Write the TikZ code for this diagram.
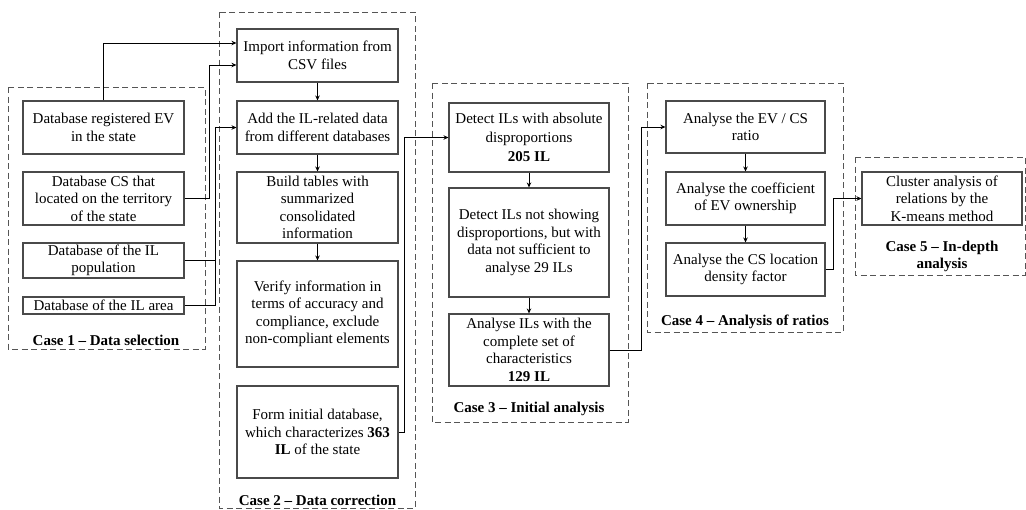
\documentclass[tikz,border=0pt]{standalone}
\usepackage{fontspec}
\setmainfont{Liberation Serif}
\usetikzlibrary{arrows.meta}
\definecolor{boxgray}{HTML}{4A4A4A}
\definecolor{framegray}{HTML}{555555}
\tikzset{
  bx/.style={draw=boxgray, line width=1.1pt, align=center, inner sep=0pt,
    font=\fontsize{15}{17.5}\selectfont},
  frame/.style={draw=framegray, line width=1pt, dash pattern=on 6pt off 3.5pt},
  lbl/.style={font=\fontsize{15}{17}\selectfont\bfseries, align=center, inner sep=0pt},
  arr/.style={draw=black, line width=0.9pt, -{Stealth[length=5pt,width=4.5pt]}},
  ln/.style={draw=black, line width=0.9pt},
}
\begin{document}
\begin{tikzpicture}[x=1pt,y=-1pt]
\useasboundingbox (0,0) rectangle (1026,509);
% frames
\draw[frame] (8,87) rectangle (205,349);
\draw[frame] (219,12) rectangle (415,508);
\draw[frame] (432,83) rectangle (628,422);
\draw[frame] (647,83) rectangle (843,332);
\draw[frame] (855,157) rectangle (1025,275);
% case 1
\node[bx, minimum width=161pt, minimum height=53pt] (ev) at (103.5,127.5) {Database registered EV\\in the state};
\node[bx, minimum width=161pt, minimum height=53pt] (cs) at (103.5,198.5) {Database CS that\\located on the territory\\of the state};
\node[bx, minimum width=161pt, minimum height=35pt] (pop) at (103.5,260.5) {Database of the IL\\population};
\node[bx, minimum width=161pt, minimum height=17pt] (area) at (103.5,305.5) {Database of the IL area};
\node[lbl] (l1) at (106,340) {Case 1 – Data selection};
% case 2
\node[bx, minimum width=161pt, minimum height=53pt] (imp) at (317.5,55.5) {Import information from\\CSV files};
\node[bx, minimum width=161pt, minimum height=53pt] (add) at (317.5,127.5) {Add the IL-related data\\from different databases};
\node[bx, minimum width=161pt, minimum height=71pt] (build) at (317.5,207.5) {Build tables with\\summarized\\consolidated\\information};
\node[bx, minimum width=161pt, minimum height=106pt] (ver) at (317.5,314) {Verify information in\\terms of accuracy and\\compliance, exclude\\non-compliant elements};
\node[bx, minimum width=161pt, minimum height=92pt] (form) at (317.5,432) {Form initial database,\\which characterizes \textbf{363}\\\textbf{IL} of the state};
\node[lbl] (l2) at (317.5,500.5) {Case 2 – Data correction};
% case 3
\node[bx, minimum width=160pt, minimum height=69pt, font=\fontsize{15}{19}\selectfont] (d1) at (529,137.5) {Detect ILs with absolute\\disproportions\\\textbf{205 IL}};
\node[bx, minimum width=160pt, minimum height=109pt] (d2) at (529,242.5) {Detect ILs not showing\\disproportions, but with\\data not sufficient to\\analyse 29 ILs};
\node[bx, minimum width=160pt, minimum height=72pt] (d3) at (529,350) {Analyse ILs with the\\complete set of\\characteristics\\\textbf{129 IL}};
\node[lbl] (l3) at (529,409) {Case 3 – Initial analysis};
% case 4
\node[bx, minimum width=159pt, minimum height=52pt] (r1) at (745.5,127) {Analyse the EV / CS\\ratio};
\node[bx, minimum width=159pt, minimum height=53pt] (r2) at (745.5,198.5) {Analyse the coefficient\\of EV ownership};
\node[bx, minimum width=159pt, minimum height=53pt] (r3) at (745.5,269.5) {Analyse the CS location\\density factor};
\node[lbl] (l4) at (745,322) {Case 4 – Analysis of ratios};
% case 5
\node[bx, minimum width=160pt, minimum height=53pt] (cl) at (942,198.5) {Cluster analysis of\\relations by the\\K-means method};
\node[lbl] (l5) at (942,256.5) {Case 5 – In-depth\\analysis};
% connectors
\draw[arr] (ev.north) |- ([yshift=12.5pt]imp.west);
\draw[arr] (cs.east) -- ++(25,0) |- ([yshift=-9.5pt]imp.west);
\draw[ln] (pop.east) -- ++(31,0);
\draw[arr] (area.east) -- ++(31,0) |- (add.west);
\draw[arr] (imp.south) -- (add.north);
\draw[arr] (add.south) -- (build.north);
\draw[arr] (build.south) -- (ver.north);
\draw[arr] (form.east) -- ++(6,0) |- (d1.west);
\draw[arr] (d1.south) -- (d2.north);
\draw[arr] (d2.south) -- (d3.north);
\draw[arr] (d3.east) -- ++(32,0) |- (r1.west);
\draw[arr] (r1.south) -- (r2.north);
\draw[arr] (r2.south) -- (r3.north);
\draw[arr] (r3.east) -- ++(8,0) |- (cl.west);
\end{tikzpicture}
\end{document}
